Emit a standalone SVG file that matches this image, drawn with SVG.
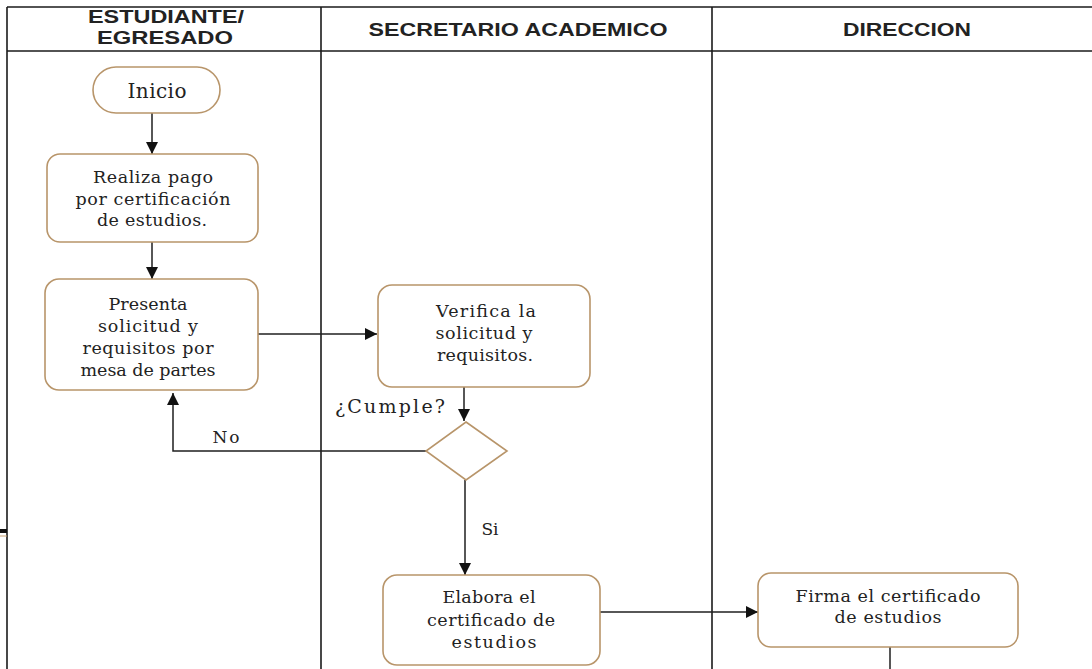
<svg xmlns="http://www.w3.org/2000/svg" width="1092" height="669" viewBox="0 0 1092 669">
<defs>
<style>
.lane{stroke:#1a1a1a;stroke-width:1.6;fill:none}
.hdr{font-family:"Liberation Sans",Arial,sans-serif;font-weight:bold;font-size:19px;fill:#222;text-anchor:middle}
.box{fill:#fff;stroke:#b8956a;stroke-width:1.6}
.t{font-family:"DejaVu Serif","Liberation Serif",serif;font-size:17.5px;fill:#222;text-anchor:middle}
.con{stroke:#1f1f1f;stroke-width:1.5;fill:none}
.lbl{font-family:"DejaVu Serif","Liberation Serif",serif;font-size:17px;fill:#222;text-anchor:middle}
</style>
<marker id="arr" markerUnits="userSpaceOnUse" markerWidth="12" markerHeight="12" refX="12" refY="6" orient="auto">
<path d="M0,0 L12,6 L0,12 z" fill="#111"/>
</marker>
</defs>
<rect width="1092" height="669" fill="#fff"/>
<g id="lanes">
<line class="lane" x1="7" y1="7" x2="1092" y2="7"/>
<line class="lane" x1="7" y1="51" x2="1092" y2="51"/>
<line class="lane" x1="7" y1="7" x2="7" y2="669"/>
<line class="lane" x1="321" y1="7" x2="321" y2="669"/>
<line class="lane" x1="712" y1="7" x2="712" y2="669"/>
<rect x="0" y="529" width="7" height="4" fill="#111"/>
<line x1="0" y1="536" x2="7" y2="536" stroke="#c8a070" stroke-width="1"/>
<text class="hdr" x="166" y="23" textLength="156" lengthAdjust="spacingAndGlyphs">ESTUDIANTE/</text>
<text class="hdr" x="165" y="44" textLength="136" lengthAdjust="spacingAndGlyphs">EGRESADO</text>
<text class="hdr" x="518" y="36" textLength="299" lengthAdjust="spacingAndGlyphs">SECRETARIO ACADEMICO</text>
<text class="hdr" x="907" y="36" textLength="128" lengthAdjust="spacingAndGlyphs">DIRECCION</text>
</g>
<g id="connectors">
<path class="con" d="M152,113 V154" marker-end="url(#arr)"/>
<path class="con" d="M152,242 V279" marker-end="url(#arr)"/>
<path class="con" d="M258,334 H377" marker-end="url(#arr)"/>
<path class="con" d="M464,387 V421" marker-end="url(#arr)"/>
<path class="con" d="M426,451 H173 V393" marker-end="url(#arr)"/>
<path class="con" d="M465,480 V575" marker-end="url(#arr)"/>
<path class="con" d="M600,612 H758" marker-end="url(#arr)"/>
<path class="con" d="M890,647 V669"/>
<text class="lbl" x="226" y="443" textLength="27">No</text>
<text class="lbl" x="490" y="535" textLength="17">Si</text>
<text class="lbl" x="390" y="413" style="font-size:19px" textLength="110">¿Cumple?</text>
</g>
<g id="inicio">
<rect class="box" x="93" y="67" width="127" height="46" rx="23"/>
<text class="t" x="157" y="98" style="font-size:20px" textLength="59">Inicio</text>
</g>
<g id="realiza">
<rect class="box" x="47" y="154" width="211" height="88" rx="13"/>
<text class="t" x="153" y="183" textLength="120">Realiza pago</text>
<text class="t" x="153" y="204.5" textLength="155">por certificación</text>
<text class="t" x="152" y="226" textLength="110">de estudios.</text>
</g>
<g id="presenta">
<rect class="box" x="45" y="279" width="213" height="111" rx="14"/>
<text class="t" x="148" y="310" textLength="79">Presenta</text>
<text class="t" x="148" y="332" textLength="100">solicitud y</text>
<text class="t" x="148" y="354" textLength="131">requisitos  por</text>
<text class="t" x="148" y="376" textLength="135">mesa de partes</text>
</g>
<g id="verifica">
<rect class="box" x="378" y="285" width="212" height="102" rx="14"/>
<text class="t" x="486" y="317" textLength="100">Verifica la</text>
<text class="t" x="484" y="339" textLength="97">solicitud y</text>
<text class="t" x="485" y="361" textLength="96">requisitos.</text>
</g>
<g id="decision">
<polygon points="466,422 507,451 466,480 426,451" fill="#fff" stroke="#b8956a" stroke-width="1.6"/>
</g>
<g id="elabora">
<rect class="box" x="383" y="575" width="217" height="90" rx="14"/>
<text class="t" x="489" y="603" textLength="93">Elabora el</text>
<text class="t" x="491" y="625.5" textLength="128">certificado de</text>
<text class="t" x="494" y="648" textLength="85">estudios</text>
</g>
<g id="firma">
<rect class="box" x="758" y="573" width="260" height="74" rx="13"/>
<text class="t" x="888" y="602" textLength="185">Firma el certificado</text>
<text class="t" x="888" y="623" textLength="107">de estudios</text>
</g>
</svg>
